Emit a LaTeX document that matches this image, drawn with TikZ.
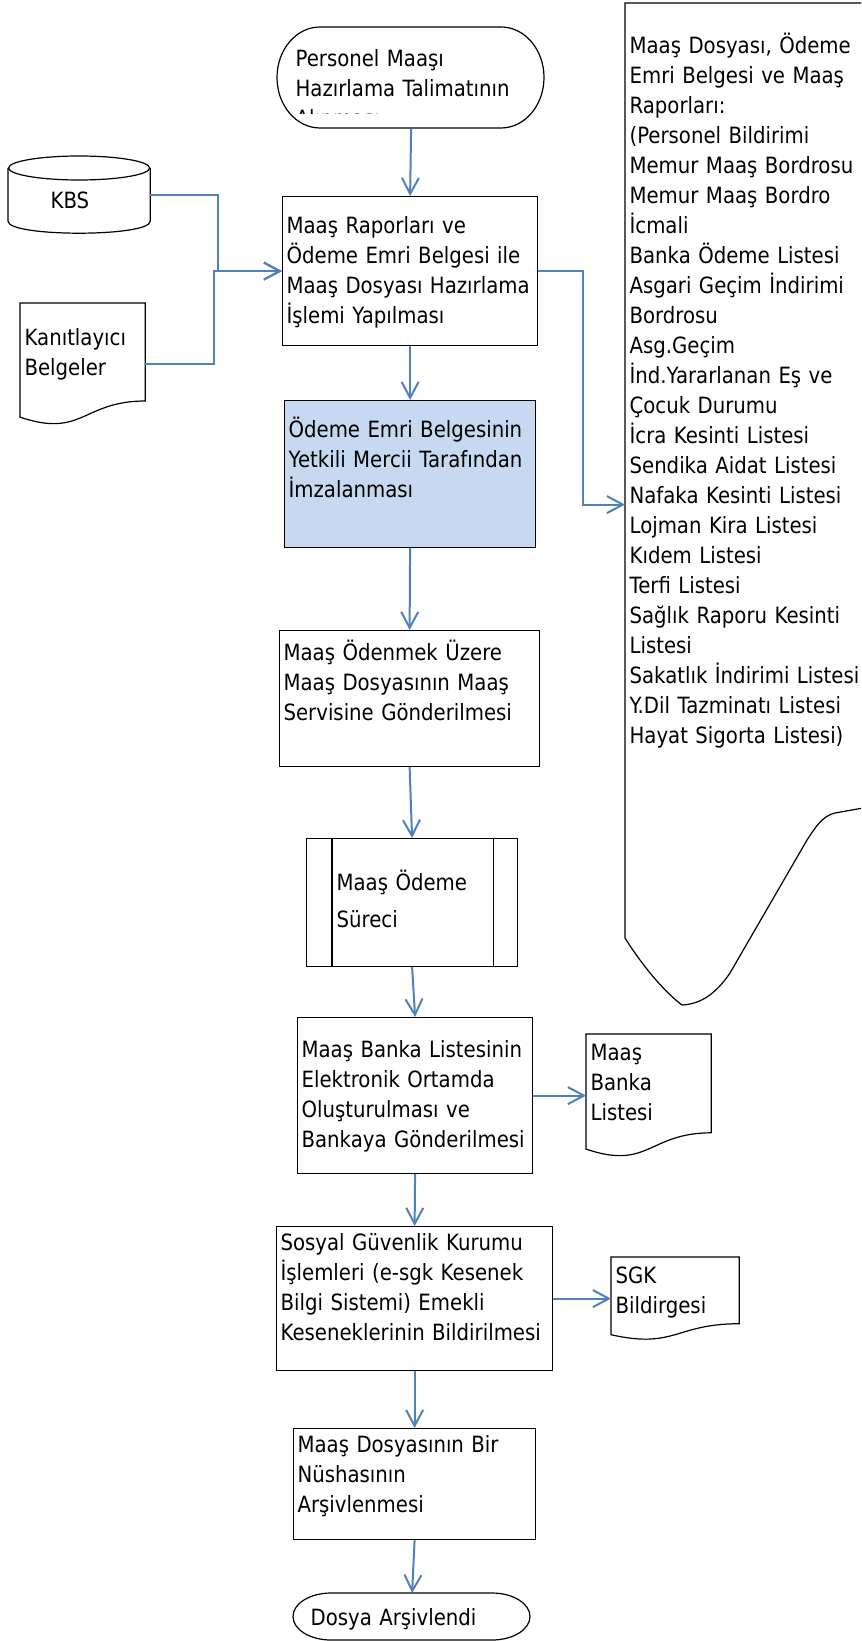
\documentclass[tikz,border=0pt]{standalone}
\usepackage{fontspec}
\setmainfont{DejaVu Sans}[FakeStretch=0.88]
\usetikzlibrary{arrows.meta,calc}

\definecolor{okmavi}{HTML}{4F81BD}
\definecolor{kutumavi}{HTML}{C6D9F1}
\newcommand{\yazi}{\fontsize{11.2pt}{15pt}\selectfont}

\tikzset{
  cerceve/.style={draw=black, line width=0.6pt},
  kutu/.style={cerceve, anchor=north west, align=left, inner xsep=2pt, inner ysep=0pt},
  belge/.style={kutu, draw=none},
  ok/.style={draw=okmavi, line width=1pt, -{Straight Barb[length=8pt,width=8.5pt]}},
}

\begin{document}
\begin{tikzpicture}[x=0.5pt, y=-0.5pt, font=\yazi]
    \path[use as bounding box] (0,0) rectangle (861,1641);
    \clip (0,0) rectangle (861,1641);
    % baslangic
    \begin{scope}
      \clip (277,27) rectangle (544,114);
      \node[belge, inner xsep=9pt, text width=115.5pt, text height=19.5pt, text depth=31pt] (basla) at (277,27) {Personel Maaşı\\Hazırlama Talimatının\\Alınması};
    \end{scope}
    \draw[cerceve] (320,27) -- (501,27) .. controls (524.75,27) and (544,49.6) .. (544,77.5) .. controls (544,105.4) and (524.75,128) .. (501,128) -- (320,128) .. controls (296.25,128) and (277,105.4) .. (277,77.5) .. controls (277,49.6) and (296.25,27) .. (320,27) -- cycle;
    % ana akis
    \node[kutu, text width=123.5pt, text height=18.5pt, text depth=56pt] (hazirla) at (282,196) {Maaş Raporları ve\\Ödeme Emri Belgesi ile\\Maaş Dosyası Hazırlama\\İşlemi Yapılması};
    \node[kutu, fill=kutumavi, text width=121.5pt, text height=18.5pt, text depth=55pt] (imza) at (284,400) {Ödeme Emri Belgesinin\\Yetkili Mercii Tarafından\\İmzalanması};
    \node[kutu, text width=126pt, text height=15pt, text depth=53pt] (gonder) at (279,630) {Maaş Ödenmek Üzere\\Maaş Dosyasının Maaş\\Servisine Gönderilmesi};
    \node[kutu, inner xsep=15pt, text width=75.5pt, text height=26pt, text depth=38pt, font=\fontsize{11.2pt}{18.5pt}\selectfont] (odeme) at (306,838) {Maaş Ödeme\\Süreci};
    \draw[cerceve] ([xshift=13pt]odeme.north west) -- ([xshift=13pt]odeme.south west);
    \draw[cerceve] ([xshift=-12.5pt]odeme.north east) -- ([xshift=-12.5pt]odeme.south east);
    \node[kutu, text width=113.5pt, text height=20pt, text depth=58pt] (banka) at (297,1017) {Maaş Banka Listesinin\\Elektronik Ortamda\\Oluşturulması ve\\Bankaya Gönderilmesi};
    \node[kutu, text width=134pt, text height=12pt, text depth=60pt] (sgk) at (276,1226) {Sosyal Güvenlik Kurumu\\İşlemleri (e-sgk Kesenek\\Bilgi Sistemi) Emekli\\Keseneklerinin Bildirilmesi};
    \node[kutu, text width=117pt, text height=12pt, text depth=43.5pt] (arsiv) at (293,1428) {Maaş Dosyasının Bir\\Nüshasının\\Arşivlenmesi};
    % bitis
    \node[belge, inner xsep=8.5pt, text width=101.5pt, text height=16pt, text depth=7.5pt] (son) at (293,1593) {Dosya Arşivlendi};
    \draw[cerceve] (331,1593) -- (492,1593) .. controls (513,1593) and (530,1603.5) .. (530,1616.5) .. controls (530,1629.5) and (513,1640) .. (492,1640) -- (331,1640) .. controls (310,1640) and (293,1629.5) .. (293,1616.5) .. controls (293,1603.5) and (310,1593) .. (331,1593) -- cycle;
    % girdiler
    \node[belge, inner xsep=21pt, text width=28.5pt, text height=26pt, text depth=12pt] (kbs) at (8,156) {KBS};
    \draw[cerceve] ($(kbs.north)+(0,12)$) ellipse [x radius=70.5, y radius=12];
    \draw[cerceve] ($(kbs.north west)+(0,12)$) -- ($(kbs.south west)+(0,-12)$) .. controls ($(kbs.south west)+(0,4)$) and ($(kbs.south east)+(0,4)$) .. ($(kbs.south east)+(0,-12)$) -- ($(kbs.north east)+(0,12)$);
    \node[belge, text width=58pt, text height=21pt, text depth=39.5pt] (kanit) at (20,303) {Kanıtlayıcı\\Belgeler};
    % belgeler
    \node[belge, text width=58pt, text height=13pt, text depth=48pt] (bankalist) at (586,1034) {Maaş\\Banka\\Listesi};
    \node[belge, text width=59.5pt, text height=13pt, text depth=28pt] (sgkbil) at (611,1257) {SGK\\Bildirgesi};
    \foreach \b in {kanit,bankalist,sgkbil}
      \draw[cerceve] let \p1=(\b.north west), \p2=(\b.south east), \n1={\y1-\y2}, \n2={(\x1+\x2)/2} in
        (\p1) -- (\x2,\y1) -- (\x2,{\y1-0.802*\n1}) .. controls (\n2,{\y1-0.802*\n1}) and (\n2,{\y1-1.1075*\n1}) .. (\x1,{\y1-0.934*\n1}) -- cycle;
    \node[belge, text width=121pt, text height=25pt, text depth=476pt] (raporlar) at (625,3) {Maaş Dosyası, Ödeme\\Emri Belgesi ve Maaş\\Raporları:\\(Personel Bildirimi\\Memur Maaş Bordrosu\\Memur Maaş Bordro\\İcmali\\Banka Ödeme Listesi\\Asgari Geçim İndirimi\\Bordrosu\\Asg.Geçim\\İnd.Yararlanan Eş ve\\Çocuk Durumu\\İcra Kesinti Listesi\\Sendika Aidat Listesi\\Nafaka Kesinti Listesi\\Lojman Kira Listesi\\Kıdem Listesi\\Terfi Listesi\\Sağlık Raporu Kesinti\\Listesi\\Sakatlık İndirimi Listesi\\Y.Dil Tazminatı Listesi\\Hayat Sigorta Listesi)};
    \draw[cerceve] (880,3) -- (raporlar.north west) -- (625,938) .. controls (640,962) and (662,990) .. (682,1005) .. controls (700,1004) and (715,995) .. (730,973) .. controls (756,928) and (781,885) .. (807,840) .. controls (815,828) and (822,816) .. (835,813) -- (880,805);
    % oklar
    \draw[ok] (basla.south) -- (hazirla.north);
    \draw[ok] (hazirla.south) -- (imza.north);
    \draw[ok] (imza.south) -- (gonder.north);
    \draw[ok] (gonder.south) -- (odeme.north);
    \draw[ok] (odeme.south) -- (banka.north);
    \draw[ok] (banka.south) -- (sgk.north);
    \draw[ok] (sgk.south) -- (arsiv.north);
    \draw[ok] (arsiv.south) -- (son.north);
    \draw[ok] (banka.east) -- (bankalist.west);
    \draw[ok] (sgk.east) -- (sgkbil.west);
    \draw[ok] (kbs.east) -- ++(68,0) |- (hazirla.west);
    \draw[ok] (kanit.east) -- ++(69,0) |- (hazirla.west);
    \draw[ok] (hazirla.east) -- ++(45,0) |- (raporlar.west);
\end{tikzpicture}
\end{document}
